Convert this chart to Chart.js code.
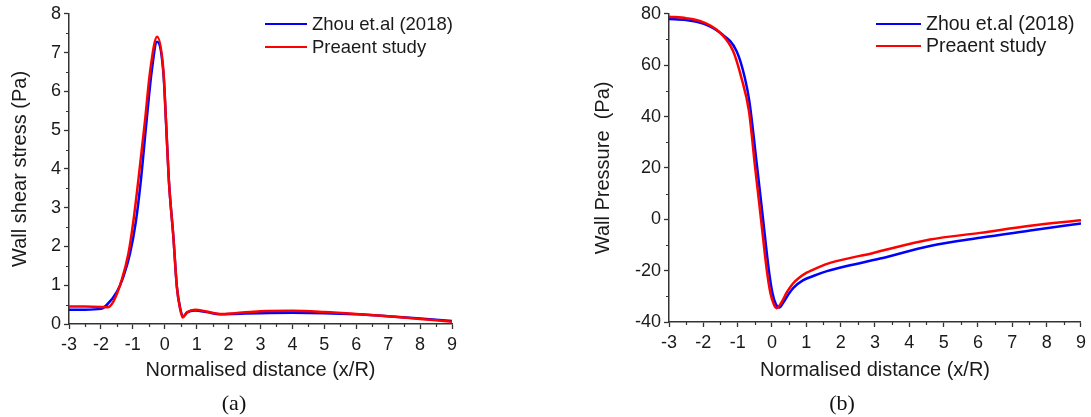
<!DOCTYPE html>
<html>
<head>
<meta charset="utf-8">
<script src="https://cdn.jsdelivr.net/npm/chart.js@4.4.0/dist/chart.umd.min.js"></script>
<style>
  body { margin: 0; background: #fff; width: 1091px; height: 417px; position: relative; overflow: hidden; }
  canvas { position: absolute; top: 0; }
  #shearChart { left: 0; }
  #pressureChart { left: 545px; }
  .panel-label {
    position: absolute; top: 390px; line-height: 26px;
    font: 22px "Liberation Serif", "Times New Roman", serif; color: #111;
    transform: translateX(-50%);
  }
</style>
</head>
<body>
<canvas id="shearChart" width="545" height="417"></canvas>
<canvas id="pressureChart" width="546" height="417"></canvas>
<div class="panel-label" style="left:234px">(a)</div>
<div class="panel-label" style="left:842px">(b)</div>

<script>
// --- data ---
const seriesLabels = ["Zhou et.al (2018)", "Preaent study"];

// (a) wall shear stress
const shearZhouX = [-3, -2.5, -2, -1.82, -1.5, -1.3, -1.09, -0.9, -0.75, -0.57, -0.41, -0.24, -0.04, 0.04, 0.13, 0.27, 0.38, 0.48, 0.58, 0.7, 0.95, 1.3, 1.73, 2.2, 3, 4, 5, 6, 7, 8, 9];
const shearZhouY = [0.37, 0.37, 0.39, 0.49, 0.83, 1.21, 1.81, 2.67, 3.69, 5.23, 6.51, 7.28, 6.45, 5.2, 3.69, 2.25, 0.96, 0.42, 0.2, 0.3, 0.35, 0.31, 0.25, 0.26, 0.28, 0.29, 0.28, 0.25, 0.2, 0.14, 0.08];
const shearPresentX = [-3, -2.5, -2, -1.8, -1.61, -1.35, -1.14, -0.98, -0.83, -0.62, -0.46, -0.24, -0.04, 0.04, 0.13, 0.27, 0.38, 0.48, 0.56, 0.7, 0.95, 1.3, 1.73, 2.2, 3, 4, 5, 6, 7, 8, 9];
const shearPresentY = [0.45, 0.45, 0.44, 0.43, 0.58, 1.13, 1.81, 2.67, 3.69, 5.23, 6.51, 7.41, 6.51, 5.23, 3.69, 2.25, 0.96, 0.4, 0.17, 0.3, 0.37, 0.32, 0.26, 0.28, 0.33, 0.34, 0.31, 0.26, 0.2, 0.13, 0.06];

// (b) wall pressure
const pressureZhouX = [-3, -2.5, -2, -1.5, -1.03, -0.79, -0.66, -0.43, -0.26, -0.09, 0.01, 0.11, 0.21, 0.35, 0.5, 0.63, 0.9, 1.2, 1.6, 2.18, 3.15, 4.6, 6.06, 7.52, 9];
const pressureZhouY = [78.0, 77.6, 76.2, 72.5, 65.4, 55, 46, 20, 0, -20, -28.5, -33, -34.4, -32, -28.8, -26.6, -23.8, -22.1, -20.2, -18.2, -15.3, -10.4, -7.2, -4.4, -1.6];
const pressurePresentX = [-3, -2.5, -2, -1.5, -1.13, -0.89, -0.67, -0.49, -0.32, -0.15, -0.05, 0.05, 0.14, 0.28, 0.43, 0.6, 0.8, 1.01, 1.35, 1.69, 2.95, 4.6, 6.06, 7.52, 9];
const pressurePresentY = [78.9, 78.3, 76.7, 72.5, 65.4, 55, 42, 20, 0, -20, -28.5, -33, -34.6, -32.3, -28.5, -25.2, -22.7, -20.8, -18.7, -17, -13.1, -7.9, -5.3, -2.5, -0.4];

const xTicks = { min: -3, max: 9, step: 1 };
const shearTicks = { min: 0, max: 8, step: 1 };
const pressureTicks = { min: -40, max: 80, step: 20 };

// --- styling ---
const fontFamily = "'Liberation Sans', Arial, sans-serif";
const textColor = "#1a1a1a";
const axisColor = "#333";
const blue = "#0000ff";
const red = "#ff0000";

const toPoints = (xs, ys) => xs.map((x, i) => ({ x: x, y: ys[i] }));

// small ticks between the labelled ones
const minorTicks = {
  id: "minorTicks",
  afterDraw(chart, args, opts) {
    const { ctx, scales } = chart;
    ctx.save();
    ctx.strokeStyle = axisColor;
    ctx.lineWidth = 1.2;
    const majors = (s) => s.ticks.map((t) => t.value);
    const xs = scales.x, ys = scales.y;
    const xMaj = majors(xs), yMaj = majors(ys);
    ctx.beginPath();
    for (let v = xs.min; v <= xs.max + 1e-9; v += opts.x) {
      if (xMaj.some((m) => Math.abs(m - v) < 1e-6)) continue;
      const px = Math.round(xs.getPixelForValue(v)) + 0.5;
      ctx.moveTo(px, xs.top);
      ctx.lineTo(px, xs.top + 3);
    }
    for (let v = ys.min; v <= ys.max + 1e-9; v += opts.y) {
      if (yMaj.some((m) => Math.abs(m - v) < 1e-6)) continue;
      const py = Math.round(ys.getPixelForValue(v)) + 0.5;
      ctx.moveTo(ys.right, py);
      ctx.lineTo(ys.right - 3, py);
    }
    ctx.stroke();
    ctx.restore();
  },
};

// legend drawn inside the plot, top right
const lineLegend = {
  id: "lineLegend",
  afterDraw(chart, args, opts) {
    const ctx = chart.ctx;
    ctx.save();
    ctx.font = opts.fontSize + "px " + fontFamily;
    ctx.textBaseline = "middle";
    chart.data.datasets.forEach((ds, i) => {
      const y = opts.top + i * opts.rowGap;
      ctx.strokeStyle = ds.borderColor;
      ctx.lineWidth = 2;
      ctx.beginPath();
      ctx.moveTo(opts.left, y);
      ctx.lineTo(opts.left + opts.lineLength, y);
      ctx.stroke();
      ctx.fillStyle = textColor;
      ctx.fillText(ds.label, opts.left + opts.lineLength + 5, y + 1);
    });
    ctx.restore();
  },
};

function makeChart(id, cfg) {
  const ctx = document.getElementById(id).getContext("2d");
  return new Chart(ctx, {
    type: "line",
    data: {
      datasets: [
        {
          label: seriesLabels[0],
          data: toPoints(cfg.zhouX, cfg.zhouY),
          borderColor: blue,
          borderWidth: 2.5,
          order: 1,
        },
        {
          label: seriesLabels[1],
          data: toPoints(cfg.presentX, cfg.presentY),
          borderColor: red,
          borderWidth: 2.5,
          order: 0,
        },
      ],
    },
    options: {
      responsive: false,
      animation: false,
      events: [],
      layout: { padding: cfg.padding },
      elements: {
        point: { radius: 0 },
        line: { cubicInterpolationMode: "monotone", fill: false },
      },
      plugins: {
        legend: { display: false },
        tooltip: { enabled: false },
        minorTicks: cfg.minor,
        lineLegend: cfg.legend,
      },
      scales: {
        x: {
          type: "linear",
          min: xTicks.min,
          max: xTicks.max,
          ticks: {
            stepSize: xTicks.step,
            color: textColor,
            font: { family: fontFamily, size: 18 },
            padding: 5,
            maxRotation: 0,
            autoSkip: false,
          },
          grid: { drawOnChartArea: false, tickLength: 5, tickColor: axisColor, tickWidth: 1.3 },
          border: { color: axisColor, width: 1.5 },
          title: {
            display: true,
            text: "Normalised distance (x/R)",
            color: textColor,
            font: { family: fontFamily, size: 20 },
            padding: 0,
          },
          afterFit: (scale) => { scale.height = cfg.xHeight; },
        },
        y: {
          type: "linear",
          min: cfg.yTicks.min,
          max: cfg.yTicks.max,
          ticks: {
            stepSize: cfg.yTicks.step,
            color: textColor,
            font: { family: fontFamily, size: 18 },
            padding: 3,
          },
          grid: { drawOnChartArea: false, tickLength: 5, tickColor: axisColor, tickWidth: 1.3 },
          border: { color: axisColor, width: 1.5 },
          title: {
            display: true,
            text: cfg.yTitle,
            color: textColor,
            font: { family: fontFamily, size: 20 },
            padding: { top: cfg.yTitlePad, bottom: 0 },
          },
          afterFit: (scale) => { scale.width = cfg.yWidth; },
        },
      },
    },
    plugins: [minorTicks, lineLegend],
  });
}

makeChart("shearChart", {
  zhouX: shearZhouX, zhouY: shearZhouY,
  presentX: shearPresentX, presentY: shearPresentY,
  yTicks: shearTicks,
  yTitle: "Wall shear stress (Pa)",
  yTitlePad: 8,
  yWidth: 69,
  xHeight: 58,
  padding: { left: 0, top: 12, right: 93, bottom: 35 },
  minor: { x: 0.5, y: 0.5 },
  legend: { left: 265, top: 24, rowGap: 23, lineLength: 42, fontSize: 18.5 },
});

makeChart("pressureChart", {
  zhouX: pressureZhouX, zhouY: pressureZhouY,
  presentX: pressurePresentX, presentY: pressurePresentY,
  yTicks: pressureTicks,
  yTitle: "Wall Pressure  (Pa)",
  yTitlePad: 46,
  yWidth: 124,
  xHeight: 60,
  padding: { left: 0, top: 12, right: 10, bottom: 35 },
  minor: { x: 0.5, y: 10 },
  legend: { left: 331, top: 24, rowGap: 22, lineLength: 45, fontSize: 19.5 },
});
</script>
</body>
</html>
